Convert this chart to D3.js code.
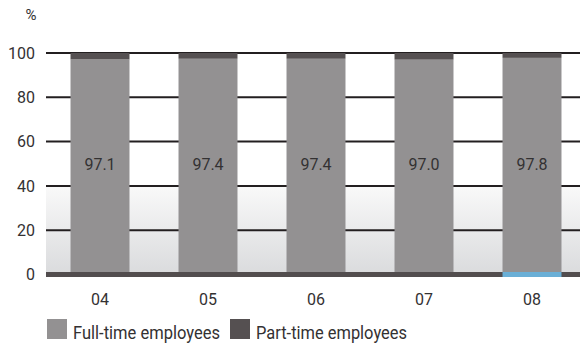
<!DOCTYPE html>
<html>
<head>
<meta charset="utf-8">
<script src="https://cdn.jsdelivr.net/npm/d3@7"></script>
<style>
  html, body { margin: 0; padding: 0; background: #fff; }
  svg { display: block; }
  text { font-family: Roboto, "Liberation Sans", sans-serif; fill: #333132; }
</style>
</head>
<body>
<svg id="chart" width="580" height="343"></svg>
<script>
const categories = ["04", "05", "06", "07", "08"];
const fullTime = [97.1, 97.4, 97.4, 97.0, 97.8];
const partTime = [2.9, 2.6, 2.6, 3.0, 2.2];
const yTicks = [0, 20, 40, 60, 80, 100];
const seriesNames = ["Full-time employees", "Part-time employees"];
const highlightCategory = "08";

const colors = { full: "#939192", part: "#555051", grid: "#231f20", base: "#524d4e", highlight: "#6aafd6" };

const svg = d3.select("#chart");
const W = 580, H = 343;
const left = 46, right = 586;

const x = d3.scaleBand().domain(categories).range([left, right]).paddingInner(0.454).paddingOuter(0.227);
const y = d3.scaleLinear().domain([0, 100]).range([274.5, 53]);

// gradient background in lower zone
const defs = svg.append("defs");
const grad = defs.append("linearGradient").attr("id", "bg").attr("x1", 0).attr("x2", 0).attr("y1", 0).attr("y2", 1);
grad.append("stop").attr("offset", "0%").attr("stop-color", "#f9f9f9");
grad.append("stop").attr("offset", "100%").attr("stop-color", "#dadbdd");
svg.append("rect").attr("x", left).attr("y", y(40)).attr("width", W - left).attr("height", y(0) - y(40))
  .attr("fill", "url(#bg)");

// gridlines
svg.append("g").selectAll("line").data(yTicks.filter(d => d > 0)).join("line")
  .attr("x1", left).attr("x2", W).attr("y1", d => y(d)).attr("y2", d => y(d))
  .attr("stroke", colors.grid).attr("stroke-width", 2);

// y labels
svg.append("g").selectAll("text").data(yTicks).join("text")
  .attr("x", 35).attr("y", d => y(d)).attr("dy", "0.36em").attr("text-anchor", "end")
  .attr("font-size", 16).text(d => d);
svg.append("text").attr("x", 31).attr("y", 20).attr("text-anchor", "middle").attr("font-size", 15).text("%");

// stacked bars
const rows = categories.map((c, i) => ({ c, full: fullTime[i], part: partTime[i] }));
const stack = d3.stack().keys(["full", "part"])(rows);
const fills = { full: colors.full, part: colors.part };
svg.append("g").selectAll("g").data(stack).join("g").attr("fill", s => fills[s.key])
  .selectAll("rect").data(s => s).join("rect")
  .attr("x", d => x(d.data.c)).attr("width", x.bandwidth())
  .attr("y", d => y(d[1])).attr("height", d => y(d[0]) - y(d[1]));

// value labels
svg.append("g").selectAll("text").data(rows).join("text")
  .attr("x", d => x(d.c) + x.bandwidth() / 2).attr("y", y(50)).attr("dy", "0.36em")
  .attr("text-anchor", "middle").attr("font-size", 16).text(d => d3.format(".1f")(d.full));

// baseline band
svg.append("rect").attr("x", left).attr("y", y(0) - 2.5).attr("width", W - left).attr("height", 5).attr("fill", colors.base);
svg.append("rect").attr("x", x(highlightCategory)).attr("y", y(0) - 2.5).attr("width", x.bandwidth()).attr("height", 5).attr("fill", colors.highlight);

// x labels
const xAxis = d3.axisBottom(x).tickSize(0).tickPadding(0);
const gx = svg.append("g").attr("transform", `translate(0, ${y(0)})`).call(xAxis);
gx.select(".domain").remove();
gx.selectAll("text").attr("font-size", 16).attr("y", 30.5).attr("dy", 0)
  .style("font-family", 'Roboto, "Liberation Sans", sans-serif').attr("fill", "#333132");

// legend
const lg = svg.append("g").attr("class", "legend");
const legendX = [47, 230];
const legendLen = [147, 151];
seriesNames.forEach((n, i) => {
  lg.append("rect").attr("x", legendX[i]).attr("y", 319).attr("width", 20).attr("height", 20)
    .attr("fill", i === 0 ? colors.full : colors.part);
  lg.append("text").attr("x", legendX[i] + 26).attr("y", 338.5).attr("font-size", 18.5)
    .attr("textLength", legendLen[i]).attr("lengthAdjust", "spacingAndGlyphs").text(n);
});
</script>
</body>
</html>
